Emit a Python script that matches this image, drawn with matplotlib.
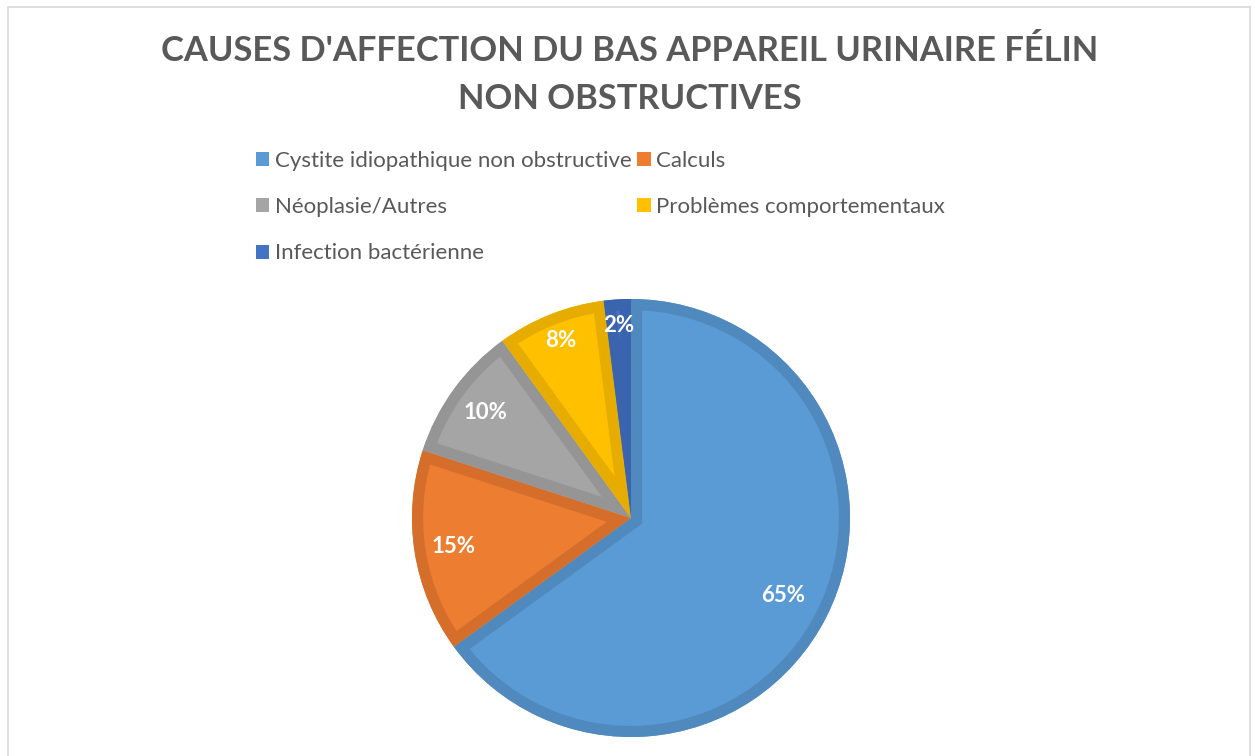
import matplotlib
matplotlib.use("Agg")
import matplotlib.pyplot as plt
import numpy as np
from matplotlib.patches import Rectangle, Patch, Wedge

categories = ["Cystite idiopathique non obstructive", "Calculs", "Néoplasie/Autres",
              "Problèmes comportementaux", "Infection bactérienne"]
values = [65, 15, 10, 8, 2]
labels_pct = ["65%", "15%", "10%", "8%", "2%"]
fill_colors = ["#5B9BD5", "#ED7D31", "#A5A5A5", "#FFC000", "#4472C4"]
edge_colors = ["#4F89BE", "#D56E2B", "#959595", "#E6AD00", "#3B64AE"]
title = "CAUSES D'AFFECTION DU BAS APPAREIL URINAIRE FÉLIN\nNON OBSTRUCTIVES"

W, H = 1255, 756
fig = plt.figure(figsize=(W / 100, H / 100), dpi=100)
fig.patch.set_facecolor("white")

# outer chart border
fig.add_artist(Rectangle((8 / W, -0.02), (1250 - 8) / W, (H - 7) / H + 0.02,
                         transform=fig.transFigure, fill=False,
                         edgecolor="#D9D9D9", linewidth=1.2))

cx, cy, r = 631, 518, 219
ax = fig.add_axes([(cx - r) / W, (H - cy - r) / H, 2 * r / W, 2 * r / H])
wedges, texts = ax.pie(values, colors=fill_colors, startangle=90, counterclock=False,
                       radius=1.0, wedgeprops=dict(linewidth=0))
ax.set_xlim(-1, 1)
ax.set_ylim(-1, 1)
ax.set_aspect("equal")
ax.axis("off")

# inner borders: stroke clipped to each wedge
for w, ec in zip(wedges, edge_colors):
    b = Wedge(w.center, w.r, w.theta1, w.theta2, facecolor="none",
              edgecolor=ec, linewidth=16, joinstyle="miter")
    ax.add_patch(b)
    b.set_clip_path(w)

dists = [0.78, 0.82, 0.82, 0.87, 0.88]
for w, lab, d in zip(wedges, labels_pct, dists):
    ang = np.deg2rad((w.theta1 + w.theta2) / 2)
    ax.text(d * np.cos(ang), d * np.sin(ang), lab, ha="center", va="center",
            color="white", fontsize=16, fontweight="bold", family="Lato", zorder=5)

fig.text(0.5 + 2 / W, 1 - 75 / H, title, ha="center", va="center",
         fontsize=24.8, fontweight="bold", color="#595959", family="Lato",
         linespacing=1.62)

handles = [Patch(facecolor=c, edgecolor="none") for c in fill_colors]
order = [0, 2, 4, 1, 3]
leg = fig.legend([handles[i] for i in order], [categories[i] for i in order],
                 ncol=2, loc="upper left", bbox_to_anchor=(256 / W, 1 - 151 / H),
                 frameon=False, prop=dict(family="Lato", size=16),
                 labelcolor="#595959", handlelength=0.6, handleheight=0.6,
                 handletextpad=0.25, columnspacing=0.25, labelspacing=1.18,
                 borderpad=0, borderaxespad=0)

fig.savefig("out.png", dpi=100)
